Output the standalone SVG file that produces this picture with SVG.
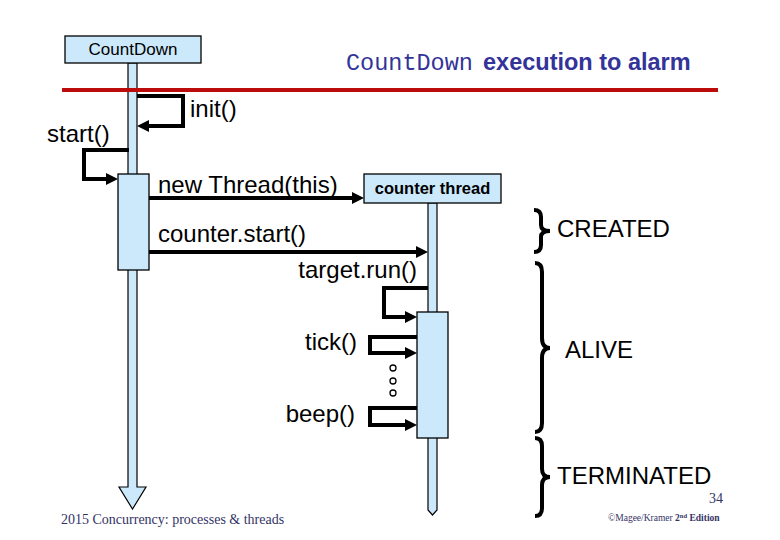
<svg xmlns="http://www.w3.org/2000/svg" width="780" height="540" viewBox="0 0 780 540">
<style>
.box{fill:#cce9fb;stroke:#000;stroke-width:1.3}
.life{fill:#cce9fb;stroke:#000;stroke-width:1.2}
.msg{fill:none;stroke:#000;stroke-width:4;stroke-linejoin:miter}
.brace{fill:none;stroke:#000;stroke-width:4;stroke-linecap:butt}
.lbl{font-family:"Liberation Sans",Arial,sans-serif;font-size:24px;fill:#000}
.small{font-family:"Liberation Sans",Arial,sans-serif;font-size:17px;fill:#000}
.foot{font-family:"Liberation Serif","Times New Roman",serif;fill:#333366}
</style>
<defs>
<marker id="ah" markerUnits="userSpaceOnUse" markerWidth="13" markerHeight="12" refX="0" refY="6" orient="auto">
<path d="M0,0 L12,6 L0,12 z" fill="#000"/>
</marker>
</defs>
<rect width="780" height="540" fill="#fff"/>
<g id="title">
<text x="346" y="70" font-family="'Liberation Mono','Courier New',monospace" font-size="23.5" fill="#333399">CountDown</text>
<text x="483" y="70" font-family="'Liberation Sans',Arial,sans-serif" font-size="23.5" font-weight="bold" fill="#333399">execution to alarm</text>
</g>
<g id="countdown">
<polygon class="life" points="129,63 137,63 137,487 146,487 132.5,509 119,487 128,487 128,63"/>
<rect class="box" x="65" y="36" width="136" height="27"/>
<text class="small" x="133" y="55" text-anchor="middle">CountDown</text>
<rect class="box" x="118" y="174" width="31" height="96"/>
</g>
<g id="rule">
<rect x="62" y="88" width="656" height="4" fill="#bb0b0b"/>
</g>
<g id="counter-thread">
<polygon class="life" points="428,203 437,203 437,510 432.5,515 428,510"/>
<rect class="box" x="364" y="174" width="137" height="29"/>
<text x="432.5" y="194" text-anchor="middle" font-family="'Liberation Sans',Arial,sans-serif" font-size="16.5" font-weight="bold" fill="#000">counter thread</text>
<rect class="box" x="417" y="312" width="31" height="126"/>
</g>
<g id="connectors">
<path class="msg" d="M137,96 H183 V126 H149" marker-end="url(#ah)"/>
<path class="msg" d="M129,150 H84 V179 H106" marker-end="url(#ah)"/>
<path class="msg" d="M149,198 H352" marker-end="url(#ah)"/>
<path class="msg" d="M149,252 H416" marker-end="url(#ah)"/>
<path class="msg" d="M428,288 H384 V317 H405" marker-end="url(#ah)"/>
<path class="msg" d="M417,337 H370 V353 H405" marker-end="url(#ah)"/>
<path class="msg" d="M417,408 H370 V425 H405" marker-end="url(#ah)"/>
</g>
<g id="labels">
<text class="lbl" x="190" y="117">init()</text>
<text class="lbl" x="47" y="142">start()</text>
<text class="lbl" x="158" y="193">new Thread(this)</text>
<text class="lbl" x="158" y="242">counter.start()</text>
<text class="lbl" x="417" y="278" text-anchor="end">target.run()</text>
<text class="lbl" x="357" y="350" text-anchor="end">tick()</text>
<text class="lbl" x="355" y="422" text-anchor="end">beep()</text>
</g>
<g id="dots" fill="#fff" stroke="#000" stroke-width="1.3">
<circle cx="393" cy="368" r="3"/>
<circle cx="393" cy="381" r="3"/>
<circle cx="393" cy="393" r="3"/>
</g>
<g id="states">
<path class="brace" d="M534,210 Q541,210 541,217 V225 Q541,231 550,231 Q541,231 541,237 V245 Q541,252 534,252"/>
<text class="lbl" x="557" y="237">CREATED</text>
<path class="brace" d="M535,263 Q542,263 542,272 V338 Q542,348 550,348 Q542,348 542,358 V423 Q542,432 535,432"/>
<text class="lbl" x="565" y="358">ALIVE</text>
<path class="brace" d="M535,438 Q542,438 542,446 V469 Q542,477 550,477 Q542,477 542,485 V508 Q542,516 535,516"/>
<text class="lbl" x="557" y="484">TERMINATED</text>
</g>
<g id="footer">
<text class="foot" x="723" y="503" font-size="14" text-anchor="end" fill="#555577">34</text>
<text class="foot" x="61" y="524" font-size="14">2015 Concurrency: processes &amp; threads</text>
<text class="foot" x="608" y="521" font-size="9.5" fill="#1a1a66">©Magee/Kramer <tspan font-weight="bold">2</tspan><tspan font-size="6.5" dy="-3" font-weight="bold">nd</tspan><tspan dy="3" font-weight="bold"> Edition</tspan></text>
</g>
</svg>
